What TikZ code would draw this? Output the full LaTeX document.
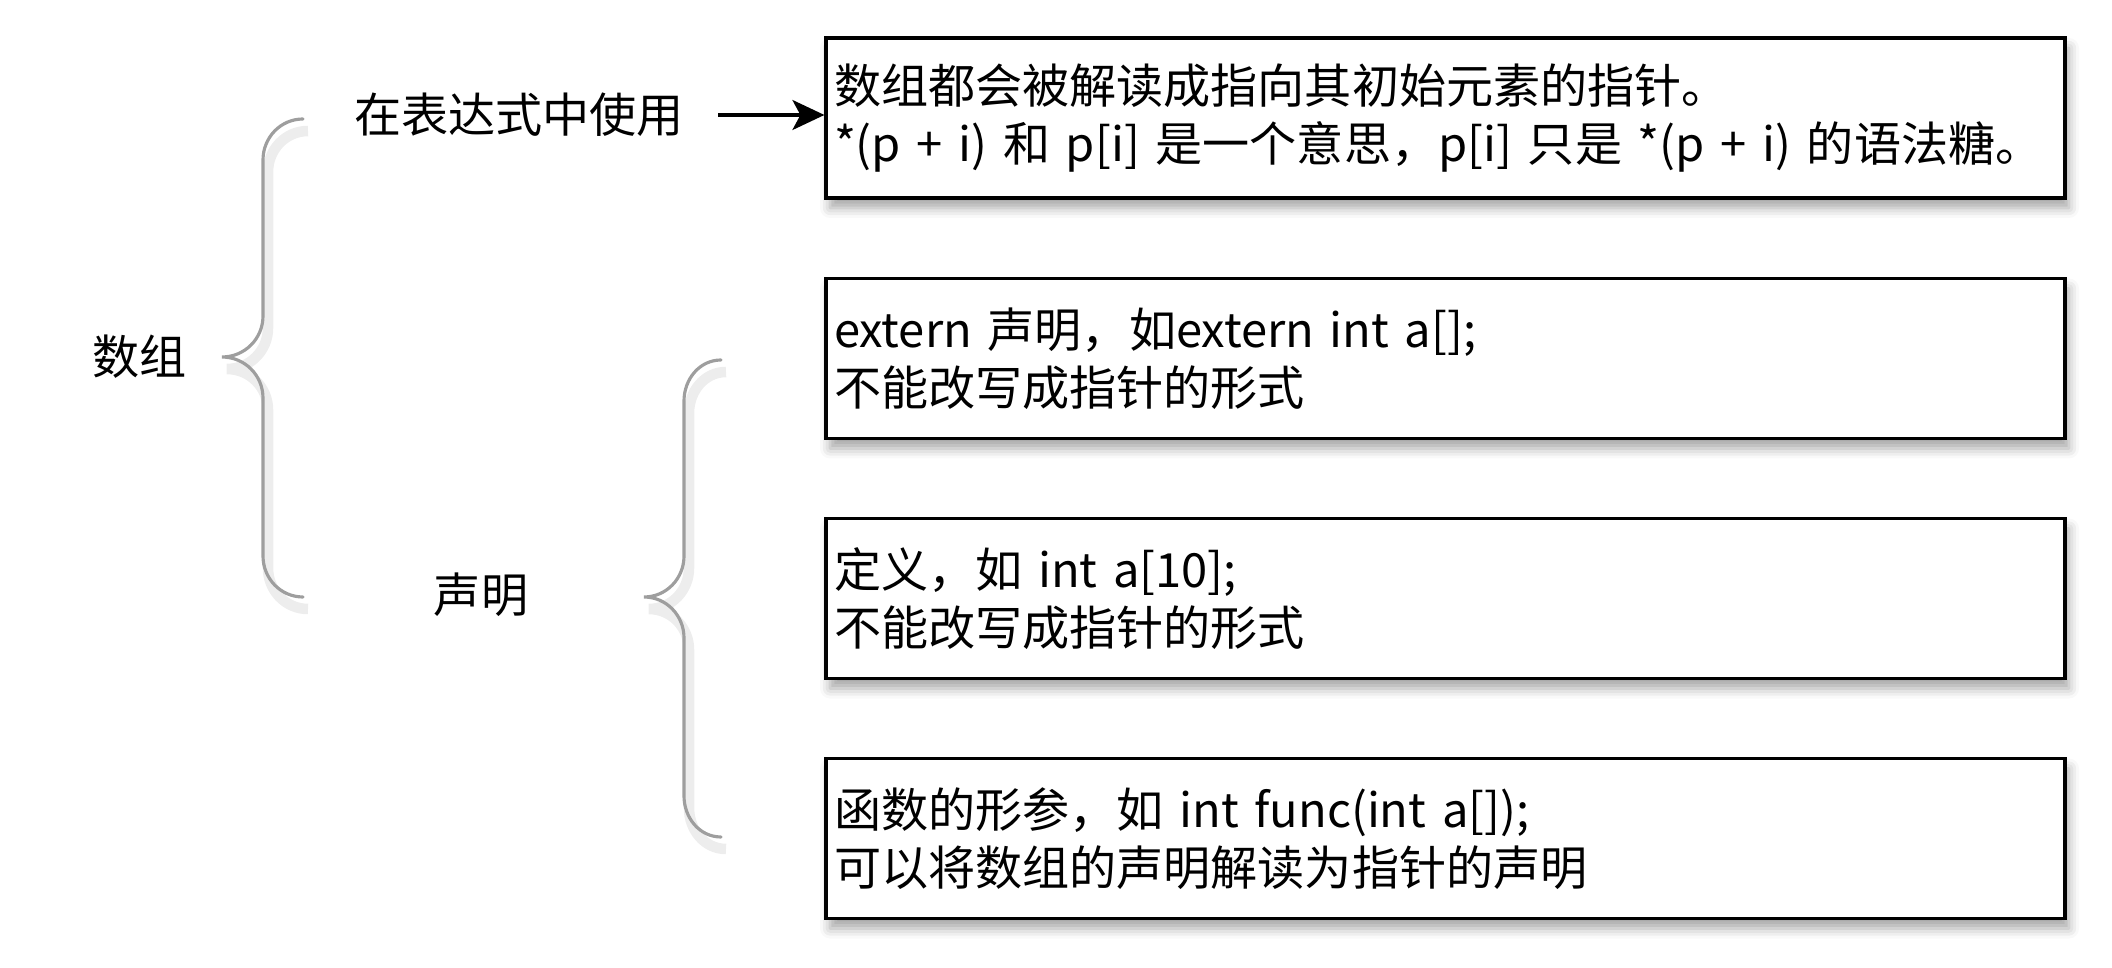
\documentclass[tikz,border=0pt]{standalone}
\usepackage{fontspec}
\setmainfont{Noto Sans CJK SC}
\usepackage{tikz}
\usetikzlibrary{arrows.meta,calc,shadows.blur}

\begin{document}
\begin{tikzpicture}[>={Stealth[length=3.2mm,width=3mm,inset=0.8mm]}]
	\tikzstyle{every node}=[font=\fontsize{13.4}{16.6}\selectfont]
	\tikzstyle{textbox}=[draw, line width=0.9pt, fill=white, minimum width=12.39cm, minimum height=1.6cm, text width=12.23cm, inner sep=0.08cm, align=left, blur shadow={shadow xshift=0.4mm, shadow yshift=-1mm, shadow blur radius=1mm, shadow opacity=35}]
	\tikzstyle{brace}=[draw=black!38, line width=0.9pt, line cap=round, preaction={draw=black!7, line width=3pt, transform canvas={xshift=0.5mm,yshift=-1.2mm}}]
	\useasboundingbox (0,0) rectangle (21.12,-9.68);
	\node (arr) at (1.40,-3.57) {数组};
	\node (use) at (5.19,-1.15) {在表达式中使用};
	\node (decl) at (4.81,-5.95) {声明};
	\node[textbox] (b1) at (14.455,-1.18) {数组都会被解读成指向其初始元素的指针。\\{}*(p + i) 和 p[i] 是一个意思，p[i] 只是 *(p + i) 的语法糖。};
	\node[textbox] (b2) at (14.455,-3.585) {extern 声明，如extern int a[];\\不能改写成指针的形式};
	\node[textbox] (b3) at (14.455,-5.985) {定义，如 int a[10];\\不能改写成指针的形式};
	\node[textbox] (b4) at (14.455,-8.385) {函数的形参，如 int func(int a[]);\\可以将数组的声明解读为指针的声明};
	\coordinate (top1) at (3.03,-1.19);
	\coordinate (tip1) at (2.22,-3.57);
	\coordinate (bot1) at (3.03,-5.97);
	\coordinate (top2) at (7.21,-3.60);
	\coordinate (tip2) at (6.44,-5.97);
	\coordinate (bot2) at (7.21,-8.37);
	\draw[brace] (top1) to[out=180,in=90] ++(-0.40,-0.41) -- ($(tip1)+(0.41,0.41)$) to[out=-90,in=0] (tip1) to[out=0,in=90] ++(0.41,-0.41) -- ($(bot1)+(-0.40,0.41)$) to[out=-90,in=180] (bot1);
	\draw[brace] (top2) to[out=180,in=90] ++(-0.37,-0.41) -- ($(tip2)+(0.40,0.41)$) to[out=-90,in=0] (tip2) to[out=0,in=90] ++(0.40,-0.41) -- ($(bot2)+(-0.37,0.41)$) to[out=-90,in=180] (bot2);
	\draw[->, line width=0.9pt, shorten <=0.22cm] (use.east) -- (use.east -| b1.west);
\end{tikzpicture}
\end{document}
